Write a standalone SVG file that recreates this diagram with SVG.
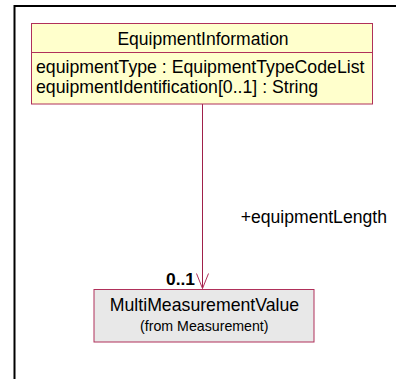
<svg xmlns="http://www.w3.org/2000/svg" width="396" height="379" viewBox="0 0 396 379">
<style>
.t{font-family:"Liberation Sans",Arial,sans-serif;fill:#000}
.box{stroke:#B0305A;stroke-width:1}
</style>
<defs>
<marker id="open" markerWidth="18" markerHeight="14" refX="15" refY="6" orient="auto" markerUnits="userSpaceOnUse" overflow="visible">
<path d="M0,0 L15,6 L0,12" fill="none" stroke="#B0305A" stroke-width="1"/>
</marker>
</defs>
<rect width="396" height="379" fill="#fff"/>
<path d="M14.5,400 L14.5,6 L400,6" fill="none" stroke="#000" stroke-width="2"/>
<g id="connectors">
<line x1="202.5" y1="104" x2="202.5" y2="288.5" stroke="#A0204A" stroke-width="1" marker-end="url(#open)"/>
<text class="t" x="166" y="285" font-size="17.4" font-weight="bold">0..1</text>
<text class="t" x="240.7" y="223.3" font-size="17.6">+equipmentLength</text>
</g>
<g id="EquipmentInformation">
<rect class="box" x="31.5" y="23.5" width="341" height="80.5" fill="#FFFFCC"/>
<line class="box" x1="31.5" y1="52.5" x2="372.5" y2="52.5"/>
<text class="t" x="203" y="45" font-size="17.5" text-anchor="middle">EquipmentInformation</text>
<text class="t" x="36" y="73.3" font-size="17.7">equipmentType : EquipmentTypeCodeList</text>
<text class="t" x="36" y="93.3" font-size="17.7">equipmentIdentification[0..1] : String</text>
</g>
<g id="MultiMeasurementValue">
<rect class="box" x="94" y="289.5" width="220" height="52.5" fill="#E8E8E8"/>
<text class="t" x="204.5" y="311" font-size="17.7" text-anchor="middle">MultiMeasurementValue</text>
<text class="t" x="204.3" y="331" font-size="14.2" text-anchor="middle">(from Measurement)</text>
</g>
</svg>
